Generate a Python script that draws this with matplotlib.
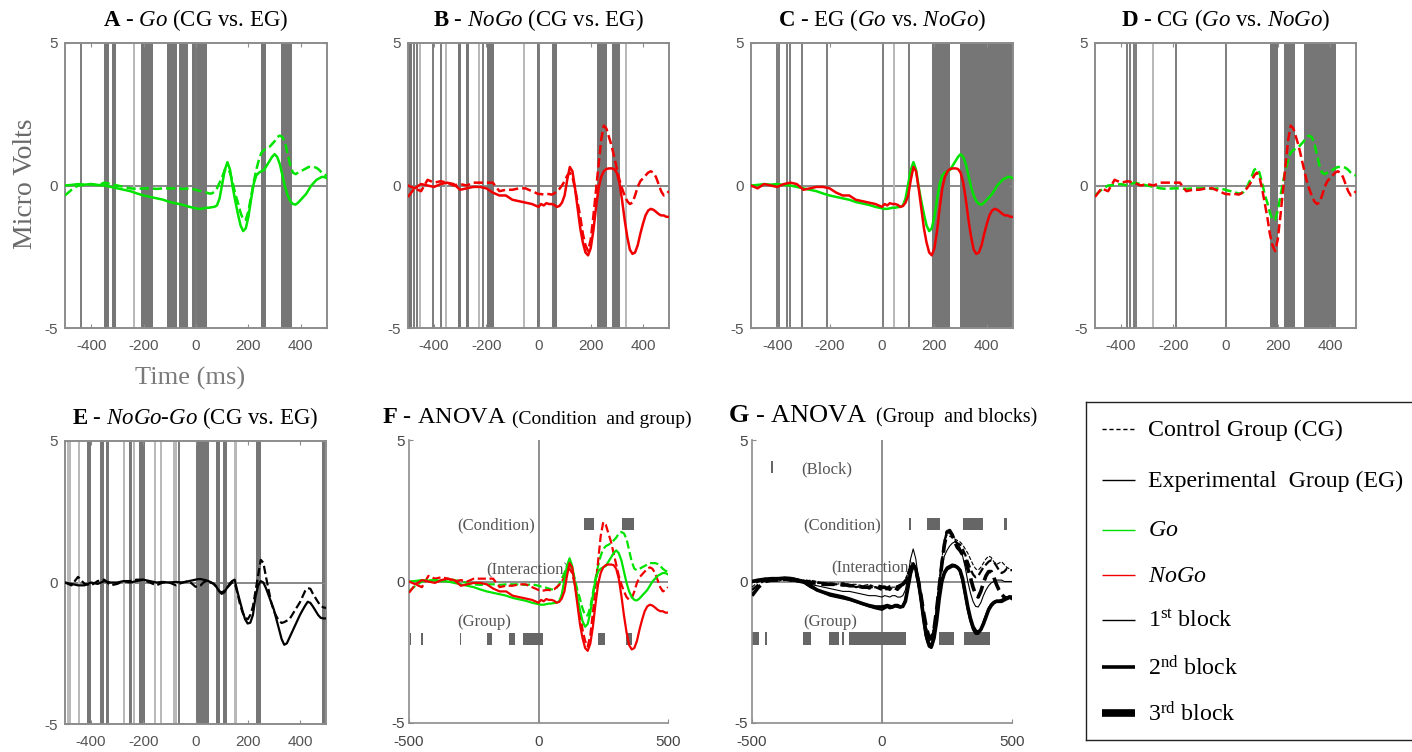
import matplotlib
matplotlib.use('Agg')
import matplotlib.pyplot as plt
import numpy as np

plt.rcParams['font.family'] = ['Liberation Serif', 'DejaVu Serif']
plt.rcParams['mathtext.fontset'] = 'custom'
plt.rcParams['mathtext.rm'] = 'Liberation Serif'
plt.rcParams['mathtext.it'] = 'Liberation Serif:italic'
plt.rcParams['mathtext.bf'] = 'Liberation Serif:bold'
plt.rcParams['axes.unicode_minus'] = False

W, H = 1412, 752

# time grid (ms): 25 ms steps before the stimulus, 10 ms after it
time = np.r_[np.arange(-500, 1, 25), np.arange(10, 501, 10)]

# grand averages (micro volts)
go_eg = [0.0, 0.02, 0.05, 0.03, 0.05, 0.02, 0.0, -0.05, -0.1, -0.15, -0.2, -0.28, -0.35, -0.4, -0.45, -0.5, -0.58, -0.63, -0.68, -0.75, -0.8,
         -0.82, -0.82, -0.8, -0.78, -0.78, -0.76, -0.75, -0.7, -0.45, 0.05,
         0.55, 0.82, 0.55, -0.05, -0.55, -1.0, -1.4, -1.6, -1.5, -1.1,
         -0.5, 0.05, 0.35, 0.45, 0.5, 0.55, 0.7, 0.85, 1.0, 1.1,
         1.0, 0.75, 0.35, -0.05, -0.35, -0.55, -0.65, -0.67, -0.6, -0.5,
         -0.4, -0.3, -0.15, 0.0, 0.1, 0.2, 0.25, 0.3, 0.3, 0.25]
go_cg = [-0.35, -0.15, 0.0, 0.02, 0.05, 0.0, 0.1, 0.05, 0.0, -0.05, -0.1, -0.12, -0.1, -0.1, -0.12, -0.1, -0.1, -0.1, -0.12, -0.1, -0.15,
         -0.18, -0.2, -0.22, -0.25, -0.28, -0.28, -0.22, -0.1, 0.1, 0.3,
         0.55, 0.6, 0.45, 0.1, -0.3, -0.6, -0.95, -1.2, -1.2, -0.9,
         -0.4, 0.1, 0.55, 0.9, 1.15, 1.25, 1.3, 1.35, 1.45, 1.55,
         1.7, 1.75, 1.7, 1.5, 1.1, 0.7, 0.45, 0.4, 0.45, 0.5,
         0.55, 0.6, 0.65, 0.65, 0.65, 0.62, 0.55, 0.45, 0.38, 0.35]
nogo_eg = [0.0, -0.1, 0.05, 0.0, -0.05, 0.05, 0.1, 0.05, -0.15, -0.1, -0.05, -0.05, -0.1, -0.25, -0.35, -0.35, -0.5, -0.55, -0.6, -0.65, -0.75,
           -0.65, -0.7, -0.62, -0.65, -0.65, -0.68, -0.75, -0.72, -0.6, -0.35,
           0.2, 0.65, 0.5, -0.1, -0.8, -1.5, -2.0, -2.35, -2.45, -2.2,
           -1.6, -0.8, -0.1, 0.3, 0.5, 0.58, 0.6, 0.6, 0.58, 0.45,
           0.1, -0.5, -1.2, -1.8, -2.25, -2.4, -2.35, -2.1, -1.7, -1.35,
           -1.05, -0.88, -0.82, -0.85, -0.92, -1.0, -1.05, -1.05, -1.1, -1.1]
nogo_cg = [-0.4, -0.1, -0.2, 0.2, 0.1, 0.15, 0.1, 0.0, 0.05, 0.0, 0.1, 0.1, 0.1, 0.1, -0.2, -0.15, -0.15, -0.1, -0.1, -0.2, -0.3,
           -0.3, -0.32, -0.3, -0.3, -0.32, -0.28, -0.2, -0.12, 0.0, 0.15,
           0.35, 0.45, 0.3, -0.1, -0.6, -1.1, -1.7, -2.1, -2.3, -1.9,
           -1.1, -0.2, 0.7, 1.6, 2.1, 2.0, 1.7, 1.4, 1.0, 0.6,
           0.2, -0.1, -0.35, -0.55, -0.65, -0.6, -0.35, -0.05, 0.15, 0.25,
           0.35, 0.45, 0.5, 0.45, 0.3, 0.05, -0.2, -0.35, -0.3, -0.2]

# NoGo-Go difference waves
diff_eg = [0.0, -0.05, -0.1, -0.1, 0.0, -0.05, 0.05, 0.0, 0.0, 0.05, 0.0, 0.05, 0.1, 0.05, 0.0, 0.02, 0.0, 0.02, 0.0, 0.05, 0.1,
           0.12, 0.12, 0.1, 0.08, 0.05, 0.0, -0.05, -0.15, -0.3, -0.4,
           -0.35, -0.2, -0.05, 0.05, 0.1, -0.3, -0.65, -1.0, -1.3, -1.45,
           -1.42, -1.15, -0.5, -0.1, 0.05, 0.0, -0.2, -0.45, -0.7, -0.95,
           -1.3, -1.65, -2.0, -2.2, -2.15, -1.95, -1.75, -1.55, -1.35, -1.15,
           -0.98, -0.82, -0.68, -0.72, -0.85, -1.0, -1.15, -1.25, -1.27, -1.27]
diff_cg = [0.0, -0.1, 0.2, -0.05, -0.1, 0.05, 0.1, -0.1, -0.05, 0.05, 0.05, 0.1, 0.1, 0.0, -0.1, 0.0, 0.0, -0.1, 0.0, 0.05, -0.15,
           -0.15, -0.1, 0.0, 0.05, 0.0, 0.0, -0.05, -0.15, -0.3, -0.35,
           -0.3, -0.2, -0.1, 0.0, 0.0, -0.35, -0.75, -1.05, -1.25, -1.3,
           -1.15, -0.85, -0.3, 0.25, 0.8, 0.7, 0.2, -0.25, -0.7, -1.0,
           -1.2, -1.35, -1.43, -1.4, -1.35, -1.3, -1.15, -1.0, -0.85, -0.7,
           -0.5, -0.3, -0.2, -0.22, -0.4, -0.55, -0.7, -0.82, -0.88, -0.9]

# per-block averages for panel G
eg_block1 = [0.0, 0.05, 0.0, 0.05, 0.1, 0.05, 0.0, 0.05, -0.05, -0.1, -0.15, -0.2, -0.25, -0.3, -0.35, -0.35, -0.4, -0.45, -0.5, -0.5, -0.55,
             -0.5, -0.52, -0.55, -0.5, -0.5, -0.55, -0.55, -0.5, -0.3, 0.2,
             0.8, 1.15, 0.8, 0.1, -0.6, -1.3, -1.8, -2.1, -2.05, -1.6,
             -0.9, -0.1, 0.5, 0.9, 1.1, 1.25, 1.35, 1.4, 1.35, 1.2,
             0.9, 0.5, 0.0, -0.4, -0.7, -0.88, -0.9, -0.75, -0.5, -0.3,
             -0.15, -0.05, 0.0, 0.05, 0.05, 0.05, 0.0, 0.0, 0.0, 0.0]
eg_block2 = [0.02, 0.0, 0.1, 0.05, 0.08, 0.1, 0.05, 0.0, -0.05, -0.2, -0.3, -0.4, -0.5, -0.55, -0.6, -0.65, -0.72, -0.8, -0.88, -0.95, -1.0,
             -0.95, -0.9, -0.95, -0.92, -0.88, -0.9, -0.92, -0.85, -0.65, -0.15,
             0.35, 0.65, 0.45, -0.05, -0.7, -1.4, -2.0, -2.3, -2.35, -2.0,
             -1.3, -0.5, 0.05, 0.35, 0.5, 0.55, 0.6, 0.58, 0.5, 0.35,
             0.0, -0.5, -1.0, -1.4, -1.7, -1.85, -1.85, -1.7, -1.45, -1.2,
             -0.95, -0.8, -0.72, -0.68, -0.68, -0.65, -0.6, -0.55, -0.55, -0.6]
eg_block3 = [0.0, 0.05, 0.08, 0.1, 0.1, 0.12, 0.1, 0.05, 0.0, -0.15, -0.3, -0.38, -0.45, -0.5, -0.55, -0.62, -0.7, -0.78, -0.85, -0.9, -0.9,
             -0.88, -0.85, -0.88, -0.9, -0.85, -0.85, -0.9, -0.88, -0.7, -0.2,
             0.3, 0.6, 0.45, 0.0, -0.6, -1.3, -1.9, -2.2, -2.3, -2.0,
             -1.4, -0.6, 0.0, 0.3, 0.45, 0.5, 0.55, 0.55, 0.5, 0.4,
             0.1, -0.4, -0.9, -1.3, -1.6, -1.75, -1.8, -1.7, -1.5, -1.25,
             -1.0, -0.85, -0.75, -0.7, -0.7, -0.7, -0.65, -0.6, -0.55, -0.6]
cg_block1 = [-0.2, 0.0, 0.1, 0.05, 0.0, 0.1, 0.05, 0.1, 0.0, 0.05, 0.0, -0.05, -0.05, -0.1, -0.05, -0.1, -0.1, -0.15, -0.1, -0.2, -0.2,
             -0.25, -0.2, -0.15, -0.2, -0.2, -0.15, -0.1, -0.05, 0.1, 0.3,
             0.55, 0.65, 0.5, 0.1, -0.5, -1.1, -1.6, -1.9, -1.95, -1.6,
             -0.9, 0.0, 0.8, 1.4, 1.65, 1.6, 1.55, 1.5, 1.45, 1.4,
             1.3, 1.15, 1.0, 0.8, 0.6, 0.45, 0.4, 0.5, 0.65, 0.8,
             0.9, 0.85, 0.7, 0.6, 0.65, 0.7, 0.6, 0.5, 0.45, 0.4]
cg_block2 = [-0.3, -0.1, 0.05, 0.0, 0.1, 0.05, 0.1, 0.0, 0.05, 0.0, -0.05, -0.05, -0.1, -0.1, -0.15, -0.1, -0.2, -0.15, -0.25, -0.2, -0.3,
             -0.3, -0.25, -0.3, -0.2, -0.25, -0.3, -0.2, -0.15, 0.0, 0.25,
             0.5, 0.6, 0.45, 0.05, -0.55, -1.2, -1.7, -2.0, -2.05, -1.7,
             -1.0, -0.1, 0.7, 1.4, 1.8, 1.75, 1.6, 1.45, 1.35, 1.3,
             1.15, 0.95, 0.7, 0.45, 0.25, 0.15, 0.2, 0.35, 0.5, 0.6,
             0.7, 0.75, 0.7, 0.55, 0.4, 0.3, 0.35, 0.45, 0.4, 0.4]
cg_block3 = [-0.5, -0.2, 0.0, 0.05, 0.05, 0.1, 0.1, 0.05, 0.0, -0.05, -0.05, -0.1, -0.1, -0.1, -0.1, -0.15, -0.15, -0.2, -0.2, -0.15, -0.2,
             -0.2, -0.25, -0.2, -0.15, -0.2, -0.2, -0.15, -0.1, 0.0, 0.2,
             0.45, 0.55, 0.4, 0.0, -0.5, -1.1, -1.6, -1.95, -2.0, -1.7,
             -1.0, -0.2, 0.6, 1.3, 1.75, 1.8, 1.65, 1.4, 1.2, 1.1,
             0.95, 0.75, 0.45, 0.15, -0.2, -0.45, -0.55, -0.35, -0.05, 0.2,
             0.35, 0.35, 0.15, -0.1, -0.3, -0.45, -0.55, -0.6, -0.55, -0.55]

# significant windows (ms): spans, single dark samples, single light samples
a_spans = [(-350, -331), (-319, -305), (-210, -163), (-109, -74), (-64, -29), (-17, 43), (248, 266), (324, 365)]
a_dark = [-440, 0]
a_light = [-237]
b_spans = [(-500, -486), (-309, -296), (-279, -267), (-198, -169), (-4, 5), (50, 69), (225, 263), (282, 314)]
b_dark = [-477, -465, -406, -372, -213, 0]
b_light = [-455, -353, -229, -55, 335]
c_spans = [(191, 261), (297, 500)]
c_dark = [-399, -392, -364, -351, -306, -210, 3, 102]
c_light = [47]
d_spans = [(171, 203), (225, 268), (302, 424)]
d_dark = [-376, -367, -351, -343, -189, 0]
d_light = [-277]
e_spans = [(-417, -399), (-366, -350), (-342, -331), (-254, -244), (-215, -194), (-68, -60),
           (1, 50), (79, 94), (107, 119), (231, 252), (483, 496)]
e_dark = [-249, -65]
e_light = [-488, -480, -448, -273, -236, -154, -133, -84, -76, 150, 157]

# ANOVA effects (ms)
f_condition = [(175, 214), (323, 367)]
f_group = [(-494, -494), (-450, -450), (-301, -301), (-198, -180), (-112, -90), (-60, 17), (229, 257), (338, 360)]
g_block = [(-422, -422)]
g_condition = [(108, 108), (173, 224), (310, 387), (470, 481)]
g_group = [(-500, -472), (-449, -441), (-305, -273), (-205, -167), (-151, -151), (-128, 92), (218, 278), (317, 417)]

GREEN = '#00e400'
RED = '#f20000'
BAR = '#767676'
SPINE = '#8c8c8c'
TICKLBL = '#555555'

fig = plt.figure(figsize=(W / 100, H / 100), dpi=100)


def add_ax(left, top, right, bottom):
    return fig.add_axes([left / W, 1 - bottom / H, (right - left) / W, (bottom - top) / H])


def box_panel(ax, title, spans, dark, light):
    ax.set_xlim(-500, 500)
    ax.set_ylim(-5, 5)
    ax.axhline(0, color='#808080', lw=1.3, zorder=0.5)
    for a, b in spans:
        ax.axvspan(a, b, color=BAR, lw=0, zorder=1)
    for x in dark:
        ax.axvline(x, color='#7c7c7c', lw=1.4, zorder=1)
    for x in light:
        ax.axvline(x, color='#b8b8b8', lw=1.4, zorder=1)
    for s in ax.spines.values():
        s.set_color(SPINE)
        s.set_linewidth(1.4)
    ax.set_xticks([-400, -200, 0, 200, 400])
    ax.set_yticks([-5, 0, 5])
    ax.tick_params(direction='in', length=3, top=True, right=True, color=SPINE,
                   labelcolor=TICKLBL, labelsize=11, labelfontfamily='Liberation Sans')
    ax.tick_params(axis='x', pad=8)
    ax.tick_params(axis='y', pad=5)
    ax.set_title(title, fontsize=16.5, pad=12)


def sig_row(ax, spans, y):
    # single samples get a minimum visible width
    bars = [(a - 3.5, 7) if b - a < 7 else (a, b - a) for a, b in spans]
    ax.broken_barh(bars, (y - 0.22, 0.44), facecolors='#666666', lw=0, zorder=1)


def anova_panel(ax, labels):
    ax.set_xlim(-500, 500)
    ax.set_ylim(-5, 5)
    ax.axhline(0, color='#707070', lw=1.1, zorder=0.5)
    ax.axvline(0, color='#707070', lw=1.1, zorder=0.5)
    for s in ['top', 'right']:
        ax.spines[s].set_visible(False)
    for s in ['left', 'bottom']:
        ax.spines[s].set_color(SPINE)
        ax.spines[s].set_linewidth(1.2)
    ax.set_xticks([-500, 0, 500])
    ax.set_yticks([-5, 0, 5])
    ax.tick_params(direction='in', length=3, color=SPINE, labelcolor='#444444',
                   labelsize=11, labelfontfamily='Liberation Sans')
    ax.tick_params(axis='x', pad=9)
    ax.tick_params(axis='y', pad=3)
    for label, x0, y in labels:
        ax.text(x0, y, label, fontsize=12, color='#555555', va='center', ha='left', zorder=2)


# --- top row ---
ax_a = add_ax(65, 43, 327, 328)
box_panel(ax_a, r'$\mathbf{A}$ - $\mathit{Go}$ (CG vs. EG)', a_spans, a_dark, a_light)
ax_a.plot(time, go_cg, color=GREEN, lw=1.8, ls='--', zorder=3)
ax_a.plot(time, go_eg, color=GREEN, lw=1.8, zorder=3)

ax_b = add_ax(408, 43, 669, 328)
box_panel(ax_b, r'$\mathbf{B}$ - $\mathit{NoGo}$ (CG vs. EG)', b_spans, b_dark, b_light)
ax_b.plot(time, nogo_cg, color=RED, lw=1.8, ls='--', zorder=3)
ax_b.plot(time, nogo_eg, color=RED, lw=1.8, zorder=3)

ax_c = add_ax(751, 43, 1013, 328)
box_panel(ax_c, r'$\mathbf{C}$ - EG ($\mathit{Go}$ vs. $\mathit{NoGo}$)', c_spans, c_dark, c_light)
ax_c.plot(time, go_eg, color=GREEN, lw=1.8, zorder=3)
ax_c.plot(time, nogo_eg, color=RED, lw=1.8, zorder=3)

ax_d = add_ax(1095, 43, 1356, 328)
box_panel(ax_d, r'$\mathbf{D}$ - CG ($\mathit{Go}$ vs. $\mathit{NoGo}$)', d_spans, d_dark, d_light)
ax_d.plot(time, go_cg, color=GREEN, lw=1.8, ls='--', zorder=3)
ax_d.plot(time, nogo_cg, color=RED, lw=1.8, ls='--', zorder=3)

fig.text(26 / W, 1 - 184 / H, 'Micro Volts', rotation=90, ha='center', va='center',
         fontsize=20, color='#6a6a6a')
fig.text(190 / W, 1 - 378 / H, 'Time (ms)', ha='center', va='center', fontsize=19, color='#7a7a7a')

# --- bottom row ---
ax_e = add_ax(65, 441, 326, 724)
box_panel(ax_e, r'$\mathbf{E}$ - $\mathit{NoGo}$-$\mathit{Go}$ (CG vs. EG)', e_spans, e_dark, e_light)
ax_e.plot(time, diff_cg, color='black', lw=1.6, ls='--', zorder=3)
ax_e.plot(time, diff_eg, color='black', lw=1.6, zorder=3)

ax_f = add_ax(409, 440, 668, 723)
anova_panel(ax_f, [('(Condition)', -313, 1.97), ('(Interaction)', -200, 0.4), ('(Group)', -313, -1.42)])
sig_row(ax_f, f_condition, 2.03)
sig_row(ax_f, f_group, -2.03)
ax_f.plot(time, go_cg, color=GREEN, lw=1.6, ls='--', zorder=3)
ax_f.plot(time, nogo_cg, color=RED, lw=1.6, ls='--', zorder=3)
ax_f.plot(time, go_eg, color=GREEN, lw=1.6, zorder=3)
ax_f.plot(time, nogo_eg, color=RED, lw=1.6, zorder=3)

ax_g = add_ax(752, 440, 1012, 723)
anova_panel(ax_g, [('(Block)', -311, 3.95), ('(Condition)', -304, 1.97),
                   ('(Interaction)', -196, 0.45), ('(Group)', -304, -1.42)])
sig_row(ax_g, g_block, 4.05)
sig_row(ax_g, g_condition, 2.04)
sig_row(ax_g, g_group, -2.02)
ax_g.plot(time, cg_block1, color='black', lw=0.8, ls='--', zorder=3)
ax_g.plot(time, cg_block2, color='black', lw=1.6, ls='--', zorder=3)
ax_g.plot(time, cg_block3, color='black', lw=2.6, ls='--', zorder=3)
ax_g.plot(time, eg_block1, color='black', lw=0.8, zorder=3)
ax_g.plot(time, eg_block2, color='black', lw=1.6, zorder=3)
ax_g.plot(time, eg_block3, color='black', lw=2.6, zorder=3)

# panel titles with two font sizes
t_f = fig.text(382 / W, 1 - 423 / H, r'$\mathbf{F}$ - ANOVA', fontsize=17.5, va='baseline')
ax_f.annotate('(Condition  and group)', xy=(1, 0), xycoords=t_f, xytext=(4, 0),
              textcoords='offset points', fontsize=14, va='bottom', annotation_clip=False)
t_g = fig.text(728 / W, 1 - 422 / H, r'$\mathbf{G}$ - ANOVA', fontsize=19, va='baseline')
ax_g.annotate('(Group  and blocks)', xy=(1, 0), xycoords=t_g, xytext=(6, 0),
              textcoords='offset points', fontsize=14.5, va='bottom', annotation_clip=False)

# --- legend box ---
leg = add_ax(1086, 402, 1425, 740)
leg.set_xlim(1086, 1425)
leg.set_ylim(740, 402)
leg.set_xticks([])
leg.set_yticks([])
for s in leg.spines.values():
    s.set_color('#222222')
    s.set_linewidth(1.0)
entries = [
    ('Control Group (CG)', 'black', 1.0, (0, (3, 2))),
    ('Experimental  Group (EG)', 'black', 1.0, '-'),
    (r'$\mathit{Go}$', '#00e000', 1.0, '-'),
    (r'$\mathit{NoGo}$', '#f00000', 1.0, '-'),
    (r'1$^{\mathrm{st}}$ block', 'black', 1.0, '-'),
    (r'2$^{\mathrm{nd}}$ block', 'black', 2.6, '-'),
    (r'3$^{\mathrm{rd}}$ block', 'black', 5.5, '-'),
]
rows_y = [429, 480, 530, 575, 620, 667, 713]
for (label, col, lw, ls), y in zip(entries, rows_y):
    leg.plot([1102, 1135], [y, y], color=col, lw=lw, ls=ls, solid_capstyle='butt')
    leg.text(1148, y + 1, label, fontsize=17.2, va='center', ha='left')

fig.savefig('out.png', dpi=100)
